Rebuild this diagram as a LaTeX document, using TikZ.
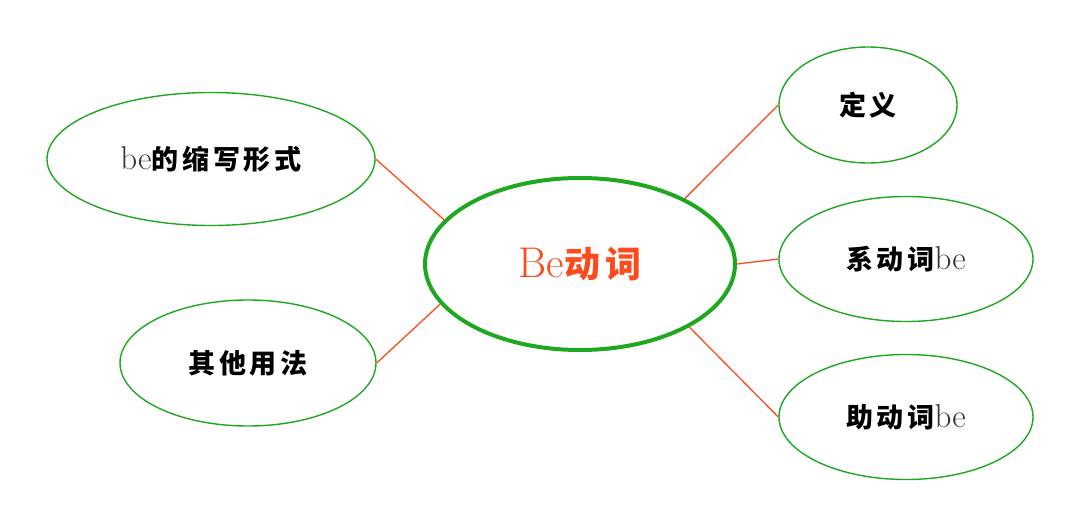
\documentclass[tikz,border=0pt]{standalone}
\usepackage{fontspec}
\usetikzlibrary{shapes.geometric}
\newfontfamily\cjk[LetterSpace=14]{Noto Sans CJK SC}
\definecolor{egreen}{HTML}{1FA81F}
\definecolor{lred}{HTML}{FF4A1C}
\definecolor{bgray}{HTML}{333333}
\tikzset{
  leaf/.style={ellipse, draw=egreen, line width=1.4pt, inner sep=0pt, fill=white},
  hub/.style={ellipse, draw=egreen, line width=4pt, inner sep=0pt, fill=white},
  link/.style={draw=lred, line width=1.3pt},
}
\newcommand{\cj}[1]{{\cjk\bfseries\fontsize{27}{29}\selectfont #1}}
\newcommand{\lb}[1]{{\color{bgray}\fontsize{33}{34}\selectfont #1}}
\begin{document}
\begin{tikzpicture}[x=1pt,y=-1pt]
\useasboundingbox (0,0) rectangle (1080,527);
\node[hub, minimum width=310pt, minimum height=172pt] (c) at (580,264)
  {\color{lred}{\fontsize{43}{45}\selectfont Be}{\cjk\bfseries\fontsize{36}{38}\selectfont 动词}};
\node[leaf, minimum width=178pt, minimum height=116pt] (d) at (868,105) {\cj{定义}};
\node[leaf, minimum width=254pt, minimum height=125pt] (x) at (906,259) {\cj{系动词}\lb{be}};
\node[leaf, minimum width=254pt, minimum height=125pt] (z) at (906,417) {\cj{助动词}\lb{be}};
\node[leaf, minimum width=328pt, minimum height=133pt] (s) at (211,159) {\lb{be}\cj{的缩写形式}};
\node[leaf, minimum width=256pt, minimum height=126pt] (q) at (248,363) {\cj{其他用法}};
\draw[link] (c.32) -- (d.west);
\draw[link] (c.east) -- (x.west);
\draw[link] (c.-30) -- (z.west);
\draw[link] (c.162) -- (s.east);
\draw[link] (c.196) -- (q.east);
\end{tikzpicture}
\end{document}
